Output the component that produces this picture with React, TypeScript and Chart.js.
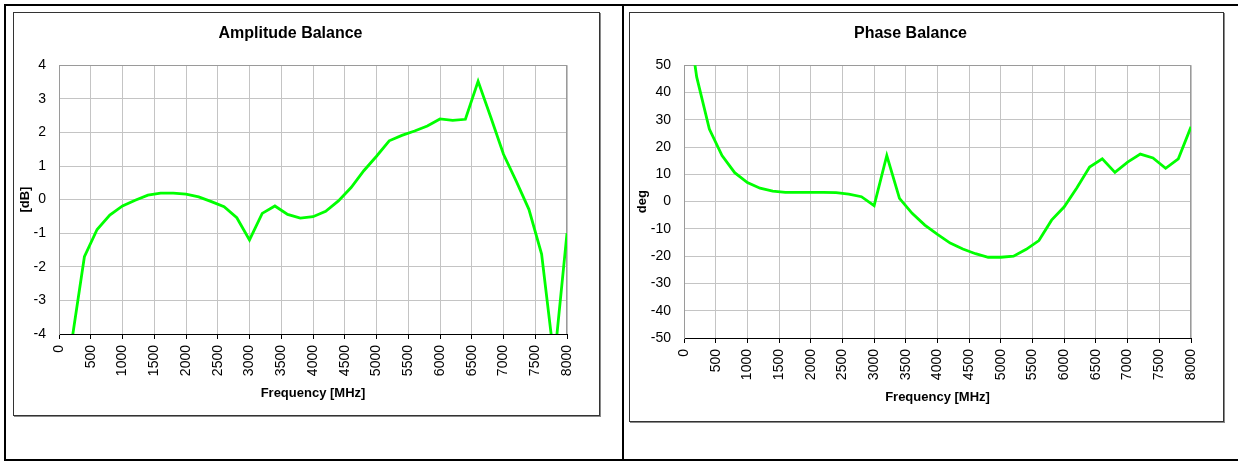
import React, { useEffect, useRef } from 'react';
import { Chart, registerables } from 'chart.js';

Chart.register(...registerables);

const FONT = "'Liberation Sans', Arial, Helvetica, sans-serif";

// Frequency points [MHz]
const freqMHz = [
  100, 200, 400, 600, 800, 1000, 1200, 1400, 1600, 1800, 2000,
  2200, 2400, 2600, 2800, 3000, 3200, 3400, 3600, 3800, 4000,
  4200, 4400, 4600, 4800, 5000, 5200, 5400, 5600, 5800, 6000,
  6200, 6400, 6600, 6800, 7000, 7200, 7400, 7600, 7800, 8000,
];

// Amplitude balance [dB]
const amplitudeDb: (number | null)[] = [
  null, -4.23, -1.7, -0.89, -0.46, -0.19, -0.02, 0.13, 0.19, 0.19, 0.16,
  0.08, -0.06, -0.21, -0.54, -1.2, -0.41, -0.19, -0.44, -0.55, -0.51,
  -0.35, -0.04, 0.36, 0.86, 1.29, 1.75, 1.91, 2.04, 2.19, 2.4,
  2.36, 2.39, 3.52, 2.45, 1.35, 0.55, -0.29, -1.62, -4.8, -1.0,
];

// Phase balance [deg]
const phaseDeg: (number | null)[] = [
  62, 45.7, 26.6, 16.9, 10.6, 7.0, 4.9, 3.85, 3.4, 3.35, 3.35,
  3.35, 3.3, 2.75, 1.8, -1.5, 16.9, 1.2, -4.3, -8.6, -12.0,
  -15.2, -17.4, -19.1, -20.4, -20.4, -20.0, -17.5, -14.3, -6.8, -1.9,
  5.1, 12.7, 15.7, 10.7, 14.5, 17.4, 16.0, 12.2, 15.7, 27.4,
];

const xMin = 0;
const xMax = 8000;
const xStep = 500;

const ampRange = [-4, 4];
const ampStep = 1;
const phaseRange = [-50, 50];
const phaseStep = 10;

const framePlugin = {
  id: 'plotFrame',
  beforeDatasetsDraw(chart: any) {
    const { ctx, chartArea: a } = chart;
    ctx.save();
    ctx.strokeStyle = '#9a9a9a';
    ctx.lineWidth = 1;
    ctx.beginPath();
    ctx.moveTo(a.left, Math.round(a.top) + 0.5);
    ctx.lineTo(a.right, Math.round(a.top) + 0.5);
    ctx.moveTo(Math.round(a.right) - 0.5, a.top);
    ctx.lineTo(Math.round(a.right) - 0.5, a.bottom);
    ctx.stroke();
    ctx.restore();
  },
};

type Dims = {
  w: number;
  h: number;
  yWidth: number;
  xHeight: number;
  padRight: number;
  titleTop: number;
  titleBottom: number;
  yTitlePad: number;
  xTitlePad: number;
};

const plainLabel = (v: any) => String(v);

function makeConfig(
  title: string,
  yTitle: string,
  values: (number | null)[],
  range: number[],
  step: number,
  d: Dims
): any {
  return {
    type: 'line',
    data: {
      datasets: [
        {
          data: freqMHz.map((f, i) => ({ x: f, y: values[i] })),
          borderColor: '#00ff00',
          borderWidth: 2.8,
          pointRadius: 0,
          tension: 0,
          fill: false,
        },
      ],
    },
    options: {
      responsive: false,
      animation: false,
      layout: { padding: { left: 0, right: d.padRight, top: 0, bottom: 0 } },
      plugins: {
        legend: { display: false },
        tooltip: { enabled: false },
        title: {
          display: true,
          text: title,
          color: '#000',
          font: { family: FONT, size: 16, weight: 'bold' },
          padding: { top: d.titleTop, bottom: d.titleBottom },
        },
      },
      scales: {
        x: {
          type: 'linear',
          min: xMin,
          max: xMax,
          afterFit: (s: any) => {
            s.height = d.xHeight;
          },
          ticks: {
            stepSize: xStep,
            autoSkip: false,
            minRotation: 90,
            maxRotation: 90,
            padding: 6,
            color: '#000',
            font: { family: FONT, size: 14 },
            callback: plainLabel,
          },
          grid: {
            color: '#c4c4c4',
            lineWidth: 1,
            drawTicks: true,
            tickLength: 5,
            tickColor: '#000',
          },
          border: { color: '#000', width: 1 },
          title: {
            display: true,
            text: 'Frequency [MHz]',
            color: '#000',
            font: { family: FONT, size: 13, weight: 'bold' },
            padding: { top: 0, bottom: d.xTitlePad },
          },
        },
        y: {
          type: 'linear',
          min: range[0],
          max: range[1],
          afterFit: (s: any) => {
            s.width = d.yWidth;
          },
          ticks: {
            stepSize: step,
            padding: 13,
            color: '#000',
            font: { family: FONT, size: 14 },
            callback: plainLabel,
          },
          grid: { color: '#c4c4c4', lineWidth: 1, drawTicks: false },
          border: { color: '#9a9a9a', width: 1 },
          title: {
            display: true,
            text: yTitle,
            color: '#000',
            font: { family: FONT, size: 13, weight: 'bold' },
            padding: { top: d.yTitlePad, bottom: 0 },
          },
        },
      },
    },
    plugins: [framePlugin],
  };
}

function ChartBox(props: {
  left: number;
  top: number;
  width: number;
  height: number;
  config: any;
}) {
  const ref = useRef<HTMLCanvasElement | null>(null);
  const { left, top, width, height, config } = props;
  useEffect(() => {
    if (!ref.current) return;
    const chart = new Chart(ref.current, config);
    return () => chart.destroy();
  }, []);
  return (
    <div
      style={{
        position: 'absolute',
        left,
        top,
        width,
        height,
        boxSizing: 'border-box',
        border: '1px solid #333',
        boxShadow: '1px 1px 0 #8a8a8a',
        background: '#fff',
      }}
    >
      <canvas
        ref={ref}
        width={width - 2}
        height={height - 2}
        style={{ display: 'block', width: width - 2, height: height - 2 }}
      />
    </div>
  );
}

export default function App() {
  const leftDims: Dims = {
    w: 585,
    h: 402,
    yWidth: 45,
    xHeight: 81,
    padRight: 32,
    titleTop: 11,
    titleBottom: 22,
    yTitlePad: 4,
    xTitlePad: 14,
  };
  const rightDims: Dims = {
    w: 593,
    h: 408,
    yWidth: 54,
    xHeight: 83,
    padRight: 32,
    titleTop: 11,
    titleBottom: 22,
    yTitlePad: 5,
    xTitlePad: 16,
  };
  const ampConfig = makeConfig('Amplitude Balance', '[dB]', amplitudeDb, ampRange, ampStep, leftDims);
  const phaseConfig = makeConfig('Phase Balance', 'deg', phaseDeg, phaseRange, phaseStep, rightDims);

  const line = (l: number, t: number, w: number, h: number) => (
    <div style={{ position: 'absolute', left: l, top: t, width: w, height: h, background: '#000' }} />
  );

  return (
    <div
      style={{
        position: 'absolute',
        left: 0,
        top: 0,
        width: 1238,
        height: 461,
        background: '#fff',
        overflow: 'hidden',
        fontFamily: FONT,
      }}
    >
      {line(4, 4, 1234, 2)}
      {line(4, 4, 2, 457)}
      {line(4, 459, 1234, 2)}
      {line(622, 4, 2, 457)}
      <ChartBox left={13} top={12} width={587} height={404} config={ampConfig} />
      <ChartBox left={629} top={12} width={595} height={410} config={phaseConfig} />
    </div>
  );
}
